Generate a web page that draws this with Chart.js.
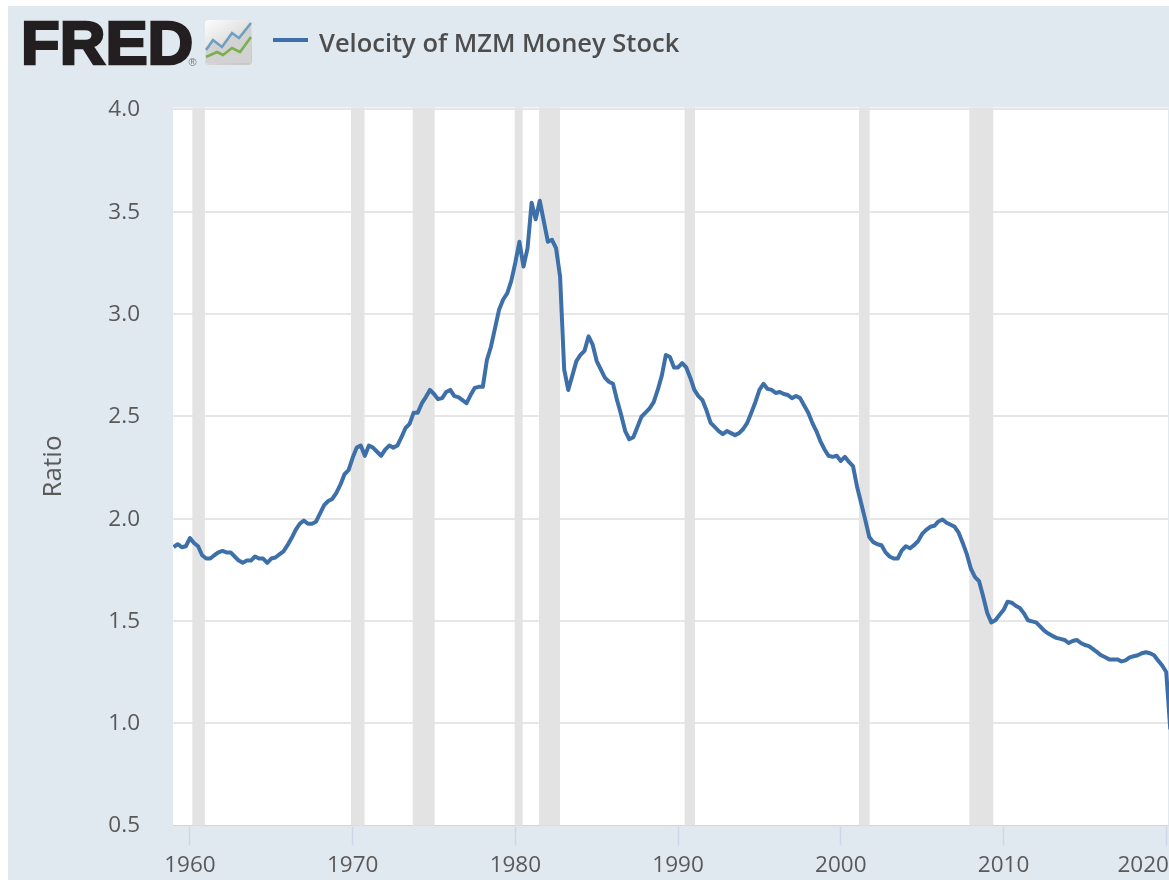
<!DOCTYPE html>
<html>
<head>
<meta charset="utf-8">
<title>Velocity of MZM Money Stock</title>
<script src="https://cdn.jsdelivr.net/npm/chart.js@4"></script>
<style>
  html, body { margin: 0; padding: 0; background: #fff; overflow: hidden; }
  #panel { position: absolute; left: 8px; top: 6px; width: 1161px; height: 874px; background: #e1e9f0; }
  #wrap { position: absolute; left: 0; top: 0; width: 1169px; height: 880px; }
</style>
</head>
<body>
<div id="panel"></div>
<div id="wrap"><canvas id="chart" width="1169" height="880"></canvas></div>
<script>
// === DATA ===
const seriesName = 'Velocity of MZM Money Stock';
const firstYear = 1959;
// quarterly, 1959 Q1 onwards
const velocity = [
  1.861, 1.875, 1.860, 1.865,  1.905, 1.881, 1.865, 1.821,  1.805, 1.805, 1.821, 1.835,
  1.842, 1.835, 1.835, 1.815,  1.795, 1.784, 1.795, 1.795,  1.815, 1.805, 1.805, 1.784,
  1.805, 1.810, 1.825, 1.840,  1.870, 1.905, 1.945, 1.975,  1.991, 1.975, 1.975, 1.985,
  2.026, 2.066, 2.086, 2.096,  2.126, 2.166, 2.217, 2.237,  2.297, 2.347, 2.357, 2.307,
  2.357, 2.347, 2.327, 2.307,  2.337, 2.357, 2.347, 2.357,  2.398, 2.443, 2.463, 2.518,
  2.518, 2.563, 2.594, 2.629,  2.609, 2.584, 2.589, 2.619,  2.629, 2.599, 2.594, 2.579,
  2.564, 2.604, 2.639, 2.644,  2.644, 2.775, 2.840, 2.931,  3.021, 3.071, 3.101, 3.162,
  3.252, 3.353, 3.232, 3.322,  3.544, 3.463, 3.554, 3.453,  3.353, 3.363, 3.322, 3.182,
  2.729, 2.629, 2.699, 2.770,  2.800, 2.820, 2.891, 2.850,  2.770, 2.729, 2.689, 2.669,
  2.659, 2.579, 2.508, 2.428,  2.388, 2.398, 2.448, 2.498,  2.518, 2.539, 2.569, 2.629,
  2.699, 2.800, 2.790, 2.739,  2.739, 2.760, 2.739, 2.689,  2.629, 2.599, 2.579, 2.528,
  2.468, 2.448, 2.428, 2.413,  2.428, 2.418, 2.408, 2.418,  2.438, 2.468, 2.518, 2.569,
  2.629, 2.659, 2.634, 2.629,  2.614, 2.619, 2.609, 2.604,  2.589, 2.599, 2.589, 2.553,
  2.518, 2.468, 2.428, 2.378,  2.338, 2.307, 2.302, 2.307,  2.282, 2.302, 2.277, 2.257,
  2.156, 2.076, 1.995, 1.910,  1.885, 1.875, 1.870, 1.835,  1.815, 1.805, 1.805, 1.845,
  1.865, 1.855, 1.870, 1.890,  1.925, 1.945, 1.960, 1.965,  1.986, 1.996, 1.980, 1.970,
  1.960, 1.930, 1.880, 1.825,  1.754, 1.714, 1.694, 1.619,  1.539, 1.493, 1.503, 1.529,
  1.553, 1.594, 1.589, 1.574,  1.563, 1.538, 1.503, 1.498,  1.493, 1.473, 1.452, 1.438,
  1.427, 1.417, 1.412, 1.407,  1.392, 1.402, 1.407, 1.392,  1.382, 1.377, 1.362, 1.347,
  1.332, 1.322, 1.312, 1.312,  1.312, 1.302, 1.307, 1.322,  1.327, 1.332, 1.342, 1.347,
  1.342, 1.332, 1.307, 1.282,  1.25, 0.97
];
const recessionStart = [1960.15, 1969.9, 1973.69, 1979.96, 1981.45, 1990.4, 2001.12, 2007.9];
const recessionEnd = [1960.92, 1970.73, 1975.04, 1980.45, 1982.74, 1991.04, 2001.77, 2009.37];
const xTicks = [1960, 1970, 1980, 1990, 2000, 2010, 2020];
const yTicks = [0.5, 1.0, 1.5, 2.0, 2.5, 3.0, 3.5, 4.0];
const yTitle = 'Ratio';

const points = velocity.map((v, i) => ({ x: firstYear + i / 4, y: v }));

const lineBlue = '#3d6fa9';
const inkGrey = '#595959';
const uiFont = '"Open Sans", "Noto Sans", sans-serif';

// the little chart tile next to the wordmark
const drawIcon = (ctx, x, y, w, h) => {
  const g = ctx.createLinearGradient(x, y, x + w * 0.6, y + h);
  g.addColorStop(0, '#fdfdfd');
  g.addColorStop(1, '#c9c9c9');
  ctx.fillStyle = g;
  ctx.beginPath();
  ctx.roundRect(x, y, w, h, 4);
  ctx.fill();
  const blue = [[1, 30], [8, 20], [17, 27], [27, 13], [34, 18], [46, 3]];
  const green = [[1, 37], [12, 32], [18, 35], [27, 28], [35, 32], [46, 17]];
  ctx.fillStyle = '#d2d2d2';
  ctx.beginPath();
  blue.forEach(p => ctx.lineTo(x + p[0], y + p[1]));
  ctx.lineTo(x + 46, y + h - 2);
  ctx.lineTo(x + 1, y + h - 2);
  ctx.fill();
  const stroke = (pts, color) => {
    ctx.strokeStyle = color;
    ctx.lineWidth = 2.6;
    ctx.beginPath();
    pts.forEach(p => ctx.lineTo(x + p[0], y + p[1]));
    ctx.stroke();
  };
  stroke(blue, '#6f9fc0');
  stroke(green, '#7caf4f');
};

const fredFurniture = {
  id: 'fredFurniture',
  beforeDraw(chart) {
    const { ctx, chartArea: a, scales: { x, y } } = chart;
    ctx.save();
    ctx.fillStyle = '#fff';
    ctx.fillRect(a.left, a.top, a.right - a.left, a.bottom - a.top);
    ctx.restore();
    // y labels sit a touch lower, last x label is pulled inside the edge
    y.getLabelItems().forEach(it => { it.options.translation[1] += 0.5; });
    const xItems = x.getLabelItems();
    xItems[xItems.length - 1].options.translation[0] -= 23;
  },
  beforeDatasetsDraw(chart) {
    const { ctx, chartArea: a, scales: { x } } = chart;
    ctx.save();
    ctx.fillStyle = '#e3e3e3';
    recessionStart.forEach((s, i) => {
      const l = x.getPixelForValue(s);
      ctx.fillRect(l, a.top, x.getPixelForValue(recessionEnd[i]) - l, a.bottom - a.top);
    });
    ctx.fillStyle = '#e1e9f0';
    ctx.fillRect(a.right - 1, a.top, 1, a.bottom - a.top);
    ctx.restore();
  },
  afterDraw(chart) {
    const { ctx } = chart;
    ctx.save();
    // logo
    ctx.save();
    ctx.translate(21, 64);
    ctx.scale(1.055, 1.02);
    ctx.fillStyle = '#231f20';
    ctx.strokeStyle = '#231f20';
    ctx.lineWidth = 2.5;
    ctx.font = 'bold 60px "Liberation Sans"';
    ctx.textBaseline = 'alphabetic';
    ctx.fillText('FRED', 0, 0);
    ctx.strokeText('FRED', 0, 0);
    ctx.restore();
    ctx.font = '11px "Liberation Sans"';
    ctx.fillStyle = '#777';
    ctx.fillText('®', 188.5, 66);
    drawIcon(ctx, 205, 20, 47, 45);
    // legend
    ctx.strokeStyle = lineBlue;
    ctx.lineWidth = 4;
    ctx.beginPath();
    ctx.moveTo(273, 40);
    ctx.lineTo(308, 40);
    ctx.stroke();
    ctx.fillStyle = '#4d4d4d';
    ctx.font = '600 25.5px ' + uiFont;
    ctx.textAlign = 'left';
    ctx.textBaseline = 'middle';
    ctx.fillText(seriesName, 319, 45);
    ctx.restore();
  }
};

new Chart(document.getElementById('chart'), {
  type: 'line',
  data: {
    datasets: [{
      label: seriesName,
      data: points,
      borderColor: lineBlue,
      borderWidth: 4,
      pointRadius: 0,
      tension: 0,
      borderJoinStyle: 'round'
    }]
  },
  options: {
    responsive: false,
    animation: false,
    layout: { padding: { top: 107.4, left: 0, right: 0, bottom: 0 } },
    plugins: { legend: { display: false }, tooltip: { enabled: false } },
    scales: {
      x: {
        type: 'linear',
        min: 1958.96,
        max: 2020.17,
        afterBuildTicks: s => { s.ticks = xTicks.map(v => ({ value: v })); },
        afterFit: s => { s.height = 54.5; s.paddingLeft = 0; s.paddingRight = 0; },
        border: { color: '#ccd6eb', width: 1 },
        grid: { drawOnChartArea: false, tickLength: 20, tickColor: '#ccd6eb', tickWidth: 1.5 },
        ticks: {
          color: inkGrey,
          font: { family: uiFont, size: 22.5 },
          padding: 7,
          maxRotation: 0,
          autoSkip: false,
          callback: v => String(v)
        }
      },
      y: {
        min: 0.5,
        max: 4.01,
        afterBuildTicks: s => { s.ticks = yTicks.map(v => ({ value: v })); },
        afterFit: s => { s.width = 173; s.paddingTop = 0; s.paddingBottom = 0; },
        border: { display: false },
        grid: { color: '#e6e6e6', lineWidth: 2, drawTicks: false },
        title: {
          display: true,
          text: yTitle,
          color: inkGrey,
          font: { family: uiFont, size: 26 },
          padding: { top: 38, bottom: 0 }
        },
        ticks: {
          color: inkGrey,
          font: { family: uiFont, size: 22.5 },
          padding: 33,
          callback: v => v.toFixed(1)
        }
      }
    }
  },
  plugins: [fredFurniture]
});
</script>
</body>
</html>
